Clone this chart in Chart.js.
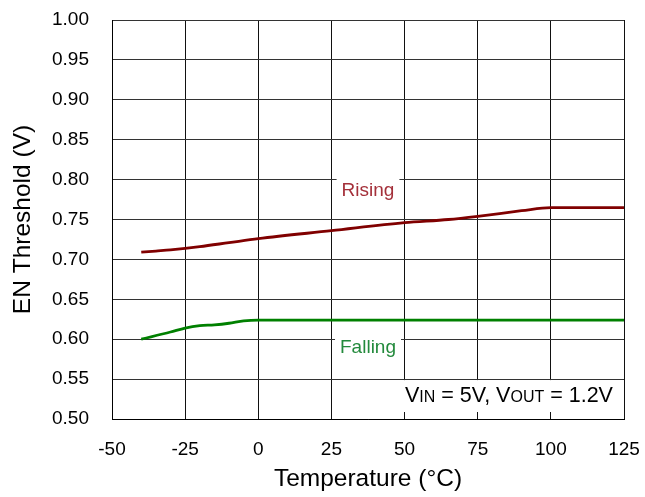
<!DOCTYPE html>
<html>
<head>
<meta charset="utf-8">
<script src="https://cdn.jsdelivr.net/npm/chart.js@4/dist/chart.umd.min.js"></script>
<style>
  html, body { margin: 0; padding: 0; background: #fff; }
  canvas { display: block; }
</style>
</head>
<body>
<canvas id="chart" width="645" height="497"></canvas>
<script>
// EN threshold vs temperature, rising and falling edges
const risingTemps  = [-40, -35, -30, -20, -10, 0, 25, 50, 65, 75, 90, 100, 125];
const risingVolts  = [0.709, 0.7105, 0.712, 0.716, 0.721, 0.726, 0.736, 0.746, 0.750, 0.754, 0.761, 0.765, 0.765];
const fallingTemps = [-40, -30, -25, -20, -15, -10, -5, 0, 125];
const fallingVolts = [0.600, 0.609, 0.614, 0.617, 0.618, 0.620, 0.623, 0.624, 0.624];

const xTickValues = [-50, -25, 0, 25, 50, 75, 100, 125];
const yTickValues = [0.50, 0.55, 0.60, 0.65, 0.70, 0.75, 0.80, 0.85, 0.90, 0.95, 1.00];

const seriesLabels = ['Rising', 'Falling'];
const conditionParts = [['V', 'main'], ['IN', 'sub'], [' = 5V, ', 'main'], ['V', 'main'], ['OUT', 'sub'], [' = 1.2V', 'main']];

const FONT = '"Liberation Sans", Arial, Helvetica, sans-serif';
Chart.defaults.font.family = FONT;
Chart.defaults.color = '#000';

const toPoints = (xs, ys) => xs.map((x, i) => ({ x, y: ys[i] }));

// keep the plot box fixed: no extra room for label overhang
const noOverhang = s => { s.paddingTop = 0; s.paddingBottom = 0; s.paddingLeft = 0; s.paddingRight = 0; };

// Text labels drawn on white patches over the grid
const overlayPlugin = {
  id: 'overlay',
  afterDatasetsDraw(chart) {
    const { ctx, scales: { x, y }, chartArea } = chart;
    ctx.save();

    const tag = (text, tx, ty, color) => {
      const px = x.getPixelForValue(tx);
      const py = y.getPixelForValue(ty);
      ctx.font = '19px ' + FONT;
      const w = ctx.measureText(text).width;
      ctx.fillStyle = '#fff';
      ctx.fillRect(px - w / 2 - 5, py - 14, w + 10, 28);
      ctx.fillStyle = color;
      ctx.textAlign = 'center';
      ctx.textBaseline = 'middle';
      ctx.fillText(text, px, py);
    };
    tag(seriesLabels[0], 37.5, 0.7865, '#a4303a');
    tag(seriesLabels[1], 37.5, 0.5895, '#238a3c');

    // operating-condition note, lower right
    const top = y.getPixelForValue(0.55) + 1;
    ctx.fillStyle = '#fff';
    ctx.fillRect(396, top, chartArea.right - 396, 412 - top);
    ctx.fillStyle = '#000';
    ctx.textAlign = 'left';
    ctx.textBaseline = 'alphabetic';
    let cx = 405;
    const base = 402;
    conditionParts.forEach(([t, kind]) => {
      ctx.font = (kind === 'sub' ? '16px ' : '21.5px ') + FONT;
      ctx.fillText(t, cx, base);
      cx += ctx.measureText(t).width;
    });
    ctx.restore();
  }
};

new Chart(document.getElementById('chart'), {
  type: 'scatter',
  data: {
    datasets: [
      {
        label: seriesLabels[0],
        data: toPoints(risingTemps, risingVolts),
        showLine: true,
        borderColor: '#800000',
        borderWidth: 2.8,
        pointRadius: 0,
        cubicInterpolationMode: 'monotone'
      },
      {
        label: seriesLabels[1],
        data: toPoints(fallingTemps, fallingVolts),
        showLine: true,
        borderColor: '#008000',
        borderWidth: 2.8,
        pointRadius: 0,
        cubicInterpolationMode: 'monotone'
      }
    ]
  },
  options: {
    responsive: false,
    animation: false,
    layout: { padding: { top: 20, right: 21, left: 0, bottom: 0 } },
    plugins: {
      legend: { display: false },
      tooltip: { enabled: false }
    },
    scales: {
      x: {
        type: 'linear',
        min: xTickValues[0],
        max: xTickValues[xTickValues.length - 1],
        afterBuildTicks: s => { s.ticks = xTickValues.map(v => ({ value: v })); },
        afterFit: s => { s.height = 78; noOverhang(s); },
        ticks: { font: { size: 19 }, padding: 19, color: '#000', maxRotation: 0 },
        grid: { color: '#111', lineWidth: 1, drawTicks: false },
        border: { display: true, color: '#000', width: 1 },
        title: {
          display: true,
          text: 'Temperature (°C)',
          font: { size: 24.5 },
          color: '#000',
          padding: { top: 0, bottom: 3 }
        }
      },
      y: {
        type: 'linear',
        min: yTickValues[0],
        max: yTickValues[yTickValues.length - 1],
        afterBuildTicks: s => { s.ticks = yTickValues.map(v => ({ value: v })); },
        afterFit: s => { s.width = 112; noOverhang(s); },
        ticks: {
          font: { size: 19 },
          padding: 23,
          color: '#000',
          callback: v => Number(v).toFixed(2)
        },
        grid: { color: '#333', lineWidth: 1, drawTicks: false },
        border: { display: true, color: '#000', width: 1 },
        title: {
          display: true,
          text: 'EN Threshold (V)',
          font: { size: 24.5 },
          color: '#000',
          padding: { top: 9, bottom: 0 }
        }
      }
    }
  },
  plugins: [overlayPlugin]
});
</script>
</body>
</html>
